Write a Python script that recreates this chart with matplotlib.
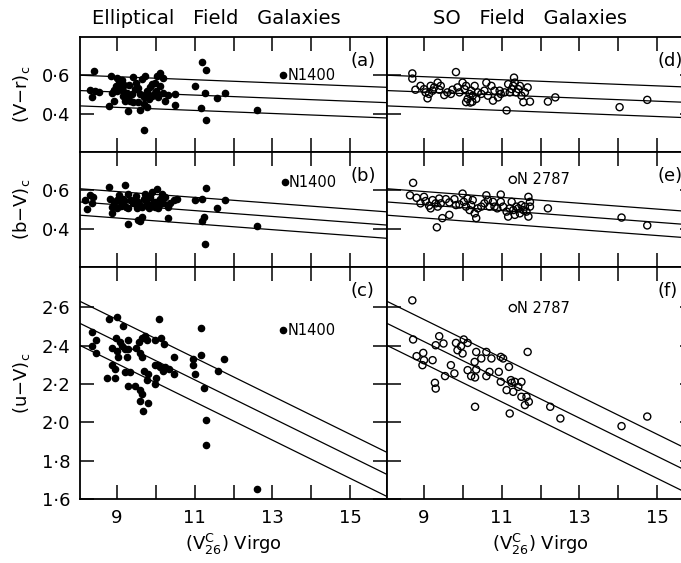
import numpy as np
import matplotlib.pyplot as plt
from matplotlib.ticker import FuncFormatter

plt.rcParams['font.family'] = 'DejaVu Sans'

# ---- elliptical field galaxies (filled dots) ----
e_vr_mag = [8.42, 8.32, 8.45, 8.56, 8.36, 8.85, 9.02, 9.07, 8.99, 9.11, 8.92, 8.87, 9.02, 9.17, 9.26,
            9.16, 9.30, 9.22, 9.35, 9.43, 9.33, 9.47, 9.56, 9.65, 9.73, 9.60, 9.69, 9.77, 9.86, 9.90,
            9.99, 10.03, 10.12, 10.20, 10.12, 9.82, 9.69, 9.77, 9.59, 9.30, 8.93, 8.81, 9.43, 9.56, 9.95,
            10.07, 10.20, 10.31, 10.25, 10.50, 10.50, 9.71, 11.19, 11.30, 11.00, 11.27, 11.16, 11.57, 11.79,
            11.30, 12.60, 9.05, 9.20, 9.40, 9.50, 9.75, 9.90, 10.00, 9.15]
e_vr = [0.622, 0.523, 0.516, 0.511, 0.485, 0.597, 0.585, 0.568, 0.545, 0.537, 0.523, 0.506, 0.516, 0.520, 0.506,
        0.494, 0.485, 0.468, 0.468, 0.591, 0.550, 0.528, 0.533, 0.579, 0.597, 0.503, 0.485, 0.520, 0.537, 0.554,
        0.562, 0.597, 0.614, 0.588, 0.545, 0.477, 0.451, 0.434, 0.417, 0.414, 0.468, 0.438, 0.460, 0.460, 0.503,
        0.485, 0.506, 0.499, 0.468, 0.503, 0.443, 0.315, 0.670, 0.626, 0.542, 0.506, 0.431, 0.480, 0.508,
        0.366, 0.417, 0.530, 0.550, 0.500, 0.560, 0.500, 0.490, 0.520, 0.575]

e_bv_mag = [8.19, 8.25, 8.36, 8.40, 8.32, 8.81, 9.22, 8.83, 8.92, 8.87, 8.87, 9.00, 9.07, 9.13, 9.17,
            9.24, 9.30, 9.35, 9.43, 9.47, 9.52, 9.56, 9.65, 9.69, 9.73, 9.77, 9.82, 9.86, 9.90, 9.95,
            9.99, 10.03, 10.07, 10.12, 10.16, 10.20, 10.25, 10.33, 10.37, 10.46, 10.54, 9.30, 9.56, 9.65, 9.60,
            10.31, 11.02, 11.19, 11.30, 11.57, 11.79, 11.23, 11.19, 11.26, 12.60,
            9.10, 9.30, 9.60, 9.75, 9.90, 10.00, 9.20, 9.50, 10.10, 9.00]
e_bv = [0.549, 0.503, 0.532, 0.566, 0.574, 0.617, 0.629, 0.557, 0.540, 0.515, 0.480, 0.549, 0.574, 0.532, 0.557,
        0.515, 0.583, 0.549, 0.532, 0.557, 0.506, 0.540, 0.515, 0.557, 0.583, 0.532, 0.506, 0.566, 0.591, 0.540,
        0.515, 0.605, 0.506, 0.557, 0.583, 0.532, 0.566, 0.515, 0.532, 0.549, 0.557, 0.424, 0.446, 0.463, 0.438,
        0.458, 0.549, 0.557, 0.612, 0.509, 0.549, 0.463, 0.438, 0.321, 0.415,
        0.520, 0.510, 0.525, 0.550, 0.520, 0.540, 0.545, 0.570, 0.525, 0.510]

e_uv_mag = [8.37, 8.46, 8.38, 8.46, 8.81, 9.00, 9.17, 8.98, 8.87, 9.02, 9.03, 8.87, 8.96, 8.76, 8.95,
            9.09, 9.13, 9.21, 9.29, 9.28, 9.27, 9.21, 9.34, 9.30, 9.46, 9.49, 9.58, 9.60, 9.64, 9.60,
            9.64, 9.60, 9.67, 9.64, 9.73, 9.77, 9.69, 9.77, 9.81, 9.81, 9.99, 10.10, 10.14, 10.22, 9.99,
            10.01, 9.99, 10.07, 10.11, 10.18, 10.24, 10.35, 10.46, 10.48, 10.95, 10.97, 11.02, 11.16, 11.17,
            11.25, 11.29, 11.29, 11.59, 11.76, 12.60]
e_uv = [2.47, 2.43, 2.40, 2.36, 2.54, 2.55, 2.50, 2.44, 2.39, 2.37, 2.34, 2.30, 2.28, 2.23, 2.23,
        2.42, 2.40, 2.38, 2.43, 2.38, 2.34, 2.26, 2.26, 2.19, 2.19, 2.39, 2.42, 2.36, 2.34, 2.17,
        2.15, 2.11, 2.06, 2.44, 2.45, 2.43, 2.27, 2.22, 2.25, 2.10, 2.43, 2.54, 2.44, 2.41, 2.30,
        2.23, 2.20, 2.30, 2.29, 2.27, 2.29, 2.28, 2.34, 2.25, 2.33, 2.30, 2.25, 2.49, 2.35,
        2.18, 2.01, 1.88, 2.27, 2.33, 1.65]

# NGC 1400 (labelled)
n1400_mag = [13.27, 13.31, 13.27]
n1400_col = [0.600, 0.642, 2.48]

# ---- S0 field galaxies (open circles) ----
s_vr_mag = [8.71, 8.71, 8.79, 8.92, 9.01, 9.05, 9.14, 9.10, 9.18, 9.23, 9.27, 9.36, 9.40, 9.44, 9.53,
            9.61, 9.70, 9.74, 9.83, 9.87, 9.92, 10.00, 10.05, 10.09, 10.09, 10.13, 10.18, 10.22, 10.26, 10.31,
            10.35, 10.39, 10.48, 10.56, 10.61, 10.65, 10.74, 10.78, 10.82, 10.91, 10.95, 10.98, 11.08, 11.13,
            11.17, 11.21, 11.26, 11.30, 11.32, 11.34, 11.38, 11.43, 11.47, 11.51, 11.56, 11.60, 11.67, 11.73,
            12.19, 12.38, 14.03, 14.74, 10.20, 10.25]
s_vr = [0.610, 0.583, 0.525, 0.545, 0.528, 0.511, 0.503, 0.480, 0.545, 0.520, 0.537, 0.562, 0.525, 0.545, 0.497,
        0.511, 0.503, 0.525, 0.617, 0.537, 0.511, 0.562, 0.528, 0.545, 0.460, 0.477, 0.503, 0.520, 0.494, 0.545,
        0.477, 0.511, 0.503, 0.520, 0.562, 0.494, 0.545, 0.468, 0.520, 0.485, 0.520, 0.503, 0.511, 0.417,
        0.554, 0.511, 0.528, 0.545, 0.588, 0.562, 0.511, 0.528, 0.545, 0.494, 0.460, 0.511, 0.537, 0.463,
        0.463, 0.485, 0.434, 0.472, 0.458, 0.462]

s_bv_mag = [8.73, 8.65, 8.82, 8.92, 9.01, 9.05, 9.14, 9.18, 9.23, 9.31, 9.36, 9.40, 9.44, 9.57, 9.66,
            9.48, 9.66, 9.34, 9.79, 9.83, 9.92, 10.00, 10.03, 10.09, 10.13, 10.18, 10.22, 10.26, 10.31, 10.35,
            10.39, 10.48, 10.56, 10.61, 10.65, 10.69, 10.78, 10.82, 10.89, 10.98, 10.98, 11.04, 11.13, 11.17,
            11.21, 11.26, 11.30, 11.34, 11.38, 11.43, 11.47, 11.51, 11.56, 11.60, 11.64, 11.69, 11.69, 11.73,
            11.73, 12.19, 14.08, 14.74]
s_bv = [0.639, 0.574, 0.561, 0.532, 0.566, 0.544, 0.520, 0.506, 0.549, 0.532, 0.515, 0.557, 0.532, 0.554, 0.537,
        0.455, 0.472, 0.407, 0.554, 0.523, 0.526, 0.583, 0.540, 0.515, 0.557, 0.497, 0.523, 0.549, 0.480, 0.455,
        0.506, 0.515, 0.532, 0.574, 0.549, 0.515, 0.540, 0.515, 0.506, 0.578, 0.540, 0.515, 0.489, 0.463,
        0.506, 0.540, 0.497, 0.472, 0.515, 0.506, 0.480, 0.523, 0.497, 0.515, 0.489, 0.463, 0.566, 0.540,
        0.515, 0.506, 0.458, 0.417]

s_uv_mag = [8.71, 8.73, 8.82, 8.99, 9.01, 8.97, 9.23, 9.31, 9.40, 9.51, 9.70, 9.79, 9.55, 9.29, 9.31,
            9.83, 9.87, 9.96, 10.00, 10.03, 10.13, 10.13, 10.22, 10.32, 10.32, 10.35, 10.31, 10.35, 10.48, 10.61,
            10.61, 10.69, 10.74, 10.93, 10.98, 11.04, 10.98, 11.13, 11.19, 11.24, 11.26, 11.30, 11.34, 11.43,
            11.51, 11.51, 11.60, 11.64, 11.70, 11.21, 11.67, 12.25, 12.51, 14.08, 14.74]
s_uv = [2.636, 2.432, 2.345, 2.362, 2.324, 2.298, 2.324, 2.402, 2.449, 2.411, 2.298, 2.255, 2.241, 2.206, 2.176,
        2.414, 2.376, 2.397, 2.359, 2.432, 2.414, 2.272, 2.241, 2.234, 2.081, 2.367, 2.315, 2.275, 2.333, 2.367,
        2.241, 2.263, 2.333, 2.263, 2.341, 2.333, 2.211, 2.168, 2.289, 2.220, 2.206, 2.159, 2.211, 2.185,
        2.211, 2.133, 2.090, 2.133, 2.107, 2.046, 2.367, 2.081, 2.020, 1.98, 2.03]

# NGC 2787 (labelled, only in b-V and u-V)
n2787_mag = [11.29, 11.29]
n2787_col = [0.655, 2.596]

# ---- colour-magnitude relations: slope, value at mag 12, half-width ----
fit_slope = [-0.008, -0.0153, -0.100]
fit_mid = [0.489, 0.479, 2.122]
fit_half = [0.080, 0.069, 0.115]

row_labels = ['(V\u2212r)$_\\mathrm{c}$', '(b\u2212V)$_\\mathrm{c}$', '(u\u2212V)$_\\mathrm{c}$']
row_ylim = [(0.2, 0.8), (0.2, 0.8), (1.6, 2.81)]
row_yticks = [[0.4, 0.6], [0.4, 0.6], [1.6, 1.8, 2.0, 2.2, 2.4, 2.6]]
panel_tags = [['(a)', '(b)', '(c)'], ['(d)', '(e)', '(f)']]

e_data = [(e_vr_mag, e_vr), (e_bv_mag, e_bv), (e_uv_mag, e_uv)]
s_data = [(s_vr_mag, s_vr), (s_bv_mag, s_bv), (s_uv_mag, s_uv)]

fig = plt.figure(figsize=(6.81, 5.63), dpi=100)
W, H = 681.0, 563.0
col_left = [80 / W, 387 / W]
col_w = 307 / W
row_top = [37, 152, 267]
row_bot = [152, 267, 499]

dotfmt = FuncFormatter(lambda v, p: ('%.1f' % v).replace('.', '\u00b7'))
xx = np.array([8.0, 16.0])

for c in range(2):
    for r in range(3):
        ax = fig.add_axes([col_left[c], 1 - row_bot[r] / H, col_w, (row_bot[r] - row_top[r]) / H])
        ax.set_xlim(8.06, 15.94)
        ax.set_ylim(*row_ylim[r])
        ax.set_xticks([9, 11, 13, 15])
        ax.set_xticks([10, 12, 14], minor=True)
        ax.set_yticks(row_yticks[r])
        ax.tick_params(which='both', direction='in', top=True, right=True,
                       length=10, width=1.1, labelsize=13, pad=7)
        for s in ax.spines.values():
            s.set_linewidth(1.3)

        for k in (-1, 0, 1):
            ax.plot(xx, fit_mid[r] + k * fit_half[r] + fit_slope[r] * (xx - 12),
                    color='black', lw=0.9)

        if c == 0:
            m, v = e_data[r]
            ax.scatter(m, v, s=20, color='black', zorder=3)
            ax.scatter([n1400_mag[r]], [n1400_col[r]], s=20, color='black', zorder=3)
            ax.annotate('N1400', (n1400_mag[r], n1400_col[r]), xytext=(3, 0),
                        textcoords='offset points', va='center', fontsize=10.5)
            ax.yaxis.set_major_formatter(dotfmt)
            ax.set_ylabel(row_labels[r], fontsize=13, labelpad=7)
        else:
            m, v = s_data[r]
            ax.scatter(m, v, s=26, facecolors='none', edgecolors='black', linewidths=1.0, zorder=3)
            if r > 0:
                ax.scatter([n2787_mag[r - 1]], [n2787_col[r - 1]], s=26, facecolors='none',
                           edgecolors='black', linewidths=1.0, zorder=3)
                ax.annotate('N 2787', (n2787_mag[r - 1], n2787_col[r - 1]), xytext=(3, 0),
                            textcoords='offset points', va='center', fontsize=10.5)
            ax.set_yticklabels([])

        tag_y = 0.79 if r < 2 else 0.895
        ax.text(0.88, tag_y, panel_tags[c][r], transform=ax.transAxes, fontsize=13,
                ha='left', va='center')

        if r < 2:
            ax.set_xticklabels([])
        else:
            ax.set_xlabel('(V$^\\mathrm{C}_\\mathrm{26}$) Virgo', fontsize=13, labelpad=4)

fig.text(216 / W, 1 - 19 / H, 'Elliptical   Field   Galaxies', fontsize=14, ha='center', va='center')
fig.text(530 / W, 1 - 19 / H, 'SO   Field   Galaxies', fontsize=14, ha='center', va='center')

fig.savefig('out.png', dpi=100)
